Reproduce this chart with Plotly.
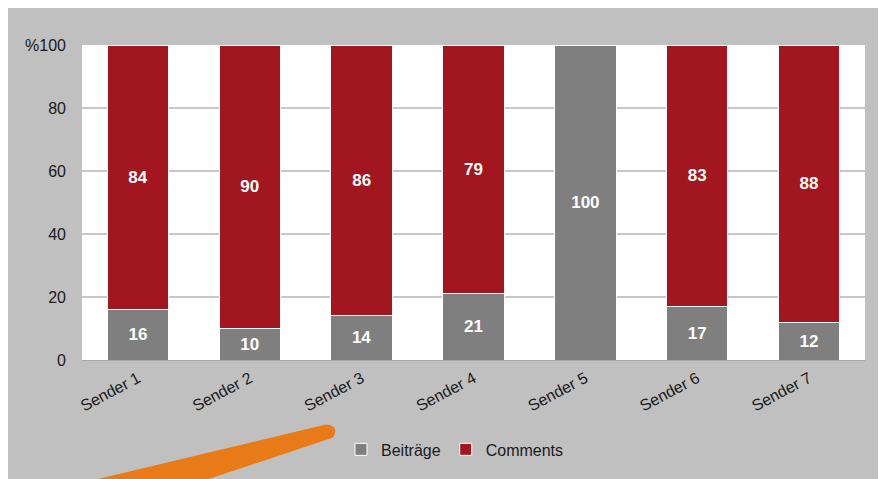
import plotly.graph_objects as go

categories = ["Sender 1", "Sender 2", "Sender 3", "Sender 4", "Sender 5", "Sender 6", "Sender 7"]
beitraege = [16, 10, 14, 21, 100, 17, 12]
comments = [84, 90, 86, 79, 0, 83, 88]
y_tickvals = [0, 20, 40, 60, 80, 100]
y_ticktext = ["0", "20", "40", "60", "80", "%100"]

# page body has an 8px margin; figure starts at (8, 8) in the screenshot
OFF = 8
W, H = 878, 471
ML, MR, MT, MB = 74, 21, 37, 117


def px(x):
    """screenshot x -> paper x"""
    return (x - OFF - ML) / (W - ML - MR)


def py(y):
    """screenshot y -> paper y"""
    return (H - MB - (y - OFF)) / (H - MT - MB)


font_family = "Liberation Sans, Arial, sans-serif"

fig = go.Figure()
fig.add_trace(go.Bar(
    name="Beiträge", x=categories, y=beitraege,
    marker=dict(color="#7f7f7f", line=dict(color="white", width=1)),
    text=[str(v) if v else "" for v in beitraege],
    textposition="inside", insidetextanchor="middle", textangle=0,
    textfont=dict(color="white", size=17, family=font_family, weight="bold"),
    constraintext="none",
))
fig.add_trace(go.Bar(
    name="Comments", x=categories, y=comments,
    marker=dict(color="#a1161f", line=dict(color="white", width=1)),
    text=[str(v) if v else "" for v in comments],
    textposition="inside", insidetextanchor="middle", textangle=0,
    textfont=dict(color="white", size=17, family=font_family, weight="bold"),
    constraintext="none",
))

# orange arrow stroke (decoration)
arrow_path = "M {:.4f},{:.4f} L {:.4f},{:.4f} Q {:.4f},{:.4f} {:.4f},{:.4f} L {:.4f},{:.4f} Z".format(
    px(97), py(482), px(326), py(427), px(340), py(428), px(333), py(440), px(208), py(482))

fig.update_layout(
    width=W, height=H,
    margin=dict(l=ML, r=MR, t=MT, b=MB, pad=0),
    barmode="stack", bargap=0.45,
    paper_bgcolor="#c0c0c0", plot_bgcolor="white",
    font=dict(family=font_family, size=16, color="#1a1a1a"),
    showlegend=True,
    legend=dict(orientation="h", x=px(455), xanchor="center", y=py(452), yanchor="middle",
                bgcolor="rgba(0,0,0,0)", font=dict(size=16), itemwidth=30,
                traceorder="normal"),
    xaxis=dict(tickangle=-28, showgrid=False, showline=True, linecolor="#a8a8a8", linewidth=1,
               ticks="", ticklabelstandoff=2, tickfont=dict(size=16)),
    yaxis=dict(range=[0, 100], tickvals=y_tickvals, ticktext=y_ticktext,
               showgrid=True, gridcolor="#c8c8c8", gridwidth=1.5, zeroline=False,
               ticks="", ticklabelstandoff=15, tickfont=dict(size=16)),
    shapes=[
        dict(type="path", xref="paper", yref="paper", path=arrow_path,
             fillcolor="#e87b17", line=dict(width=0), layer="above"),
    ],
)

fig.write_html("out.html")
